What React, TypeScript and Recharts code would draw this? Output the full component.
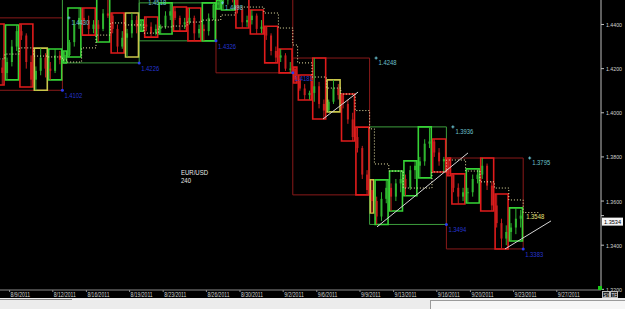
import {
  Bar,
  ComposedChart,
  Line,
  ReferenceArea,
  ReferenceDot,
  ReferenceLine,
  XAxis,
  YAxis,
} from "recharts";

// EUR/USD, 8-hour bars as [high, low, close]; each week = Sunday bar + Mon..Fri (3 bars a day)
const firstOpen = 1.4395;
const week1 = [
  [1.443, 1.4385, 1.4398],
  [1.4402, 1.43, 1.4318], [1.433, 1.419, 1.4205], [1.424, 1.4126, 1.418],
  [1.425, 1.4149, 1.423], [1.433, 1.421, 1.43], [1.4398, 1.428, 1.437],
  [1.4402, 1.433, 1.435], [1.436, 1.42, 1.423], [1.426, 1.4117, 1.415],
  [1.421, 1.4102, 1.419], [1.4293, 1.417, 1.425], [1.427, 1.416, 1.42],
  [1.423, 1.4149, 1.419], [1.4289, 1.418, 1.426], [1.428, 1.422, 1.424],
];
const week2 = [
  [1.428, 1.4226, 1.4262],
  [1.433, 1.4253, 1.432], [1.442, 1.43, 1.44], [1.4475, 1.438, 1.443],
  [1.4475, 1.44, 1.442], [1.444, 1.4352, 1.438], [1.442, 1.436, 1.44],
  [1.442, 1.4321, 1.438], [1.447, 1.437, 1.445], [1.4518, 1.443, 1.444],
  [1.4452, 1.436, 1.438], [1.44, 1.4271, 1.43], [1.437, 1.429, 1.434],
  [1.438, 1.4253, 1.436], [1.4452, 1.434, 1.442], [1.444, 1.436, 1.439],
];
const week3 = [
  [1.442, 1.437, 1.44],
  [1.4434, 1.437, 1.439], [1.441, 1.4343, 1.436], [1.44, 1.435, 1.438],
  [1.44, 1.4357, 1.439], [1.446, 1.438, 1.444], [1.4498, 1.442, 1.446],
  [1.4479, 1.442, 1.443], [1.444, 1.437, 1.44], [1.443, 1.438, 1.441],
  [1.4475, 1.44, 1.443], [1.444, 1.4326, 1.436], [1.44, 1.434, 1.438],
  [1.44, 1.4326, 1.437], [1.445, 1.435, 1.443], [1.4498, 1.442, 1.449],
];
const week4 = [
  [1.451, 1.447, 1.45],
  [1.453, 1.4466, 1.451], [1.4548, 1.449, 1.453], [1.4545, 1.45, 1.452],
  [1.4525, 1.445, 1.447], [1.448, 1.4384, 1.441], [1.444, 1.439, 1.442],
  [1.4466, 1.44, 1.444], [1.445, 1.4357, 1.438], [1.442, 1.436, 1.439],
  [1.4392, 1.433, 1.435], [1.436, 1.426, 1.428], [1.43, 1.4226, 1.425],
  [1.4289, 1.423, 1.426], [1.427, 1.419, 1.42], [1.423, 1.4181, 1.42],
];
const week5 = [
  [1.4207, 1.4135, 1.415],
  [1.4171, 1.41, 1.411], [1.413, 1.4058, 1.408], [1.41, 1.406, 1.409],
  [1.4248, 1.405, 1.412], [1.414, 1.402, 1.404], [1.406, 1.3972, 1.401],
  [1.406, 1.4004, 1.405], [1.4149, 1.404, 1.411], [1.413, 1.406, 1.408],
  [1.4085, 1.402, 1.404], [1.406, 1.395, 1.397], [1.4, 1.3872, 1.389],
  [1.3935, 1.382, 1.384], [1.385, 1.37, 1.372], [1.374, 1.3628, 1.365],
];
const week6 = [
  [1.3696, 1.3546, 1.36],
  [1.362, 1.3494, 1.353], [1.364, 1.351, 1.361], [1.3696, 1.359, 1.366],
  [1.368, 1.3555, 1.362], [1.37, 1.36, 1.368], [1.3736, 1.364, 1.37],
  [1.372, 1.3624, 1.366], [1.376, 1.365, 1.374], [1.3782, 1.37, 1.376],
  [1.38, 1.3705, 1.378], [1.388, 1.376, 1.386], [1.3936, 1.384, 1.387],
  [1.3881, 1.38, 1.382], [1.384, 1.376, 1.378], [1.38, 1.3732, 1.379],
];
const week7 = [
  [1.3795, 1.3715, 1.372],
  [1.3723, 1.364, 1.366], [1.368, 1.3587, 1.362], [1.366, 1.36, 1.364],
  [1.366, 1.3591, 1.364], [1.372, 1.362, 1.37], [1.3746, 1.368, 1.372],
  [1.3795, 1.37, 1.376], [1.377, 1.365, 1.367], [1.369, 1.3555, 1.358],
  [1.3632, 1.348, 1.35], [1.352, 1.3383, 1.343], [1.349, 1.34, 1.346],
  [1.35, 1.3419, 1.348], [1.3569, 1.345, 1.352], [1.356, 1.348, 1.3534],
];

// daily box character, Sun..Fri: u = up, d = down, n = inside day
const dayTones = ["ddudnu", "uududn", "ududdu", "uudddd", "dddndd", "nuuuud", "dduddu"];

// dotted pivot level for each day, Sun..Fri
const pivotLevels = [
  [1.425, 1.4244, 1.4266, 1.4294, 1.4257, 1.4253],
  [1.4239, 1.423, 1.4294, 1.4352, 1.4407, 1.4398],
  [1.4398, 1.4361, 1.4389, 1.4393, 1.4411, 1.442],
  [1.442, 1.4443, 1.4479, 1.4479, 1.4452, 1.4384],
  [1.4307, 1.4226, 1.4162, 1.4112, 1.4085, 1.401],
  [1.3927, 1.3768, 1.3736, 1.3659, 1.3659, 1.3732],
  [1.3786, 1.3786, 1.3736, 1.3687, 1.3659, 1.3605],
];
const currentPivot = 1.3548;
const currentPivotEnd = 231;

const highLabelWeeks = [0, 1, 2, 4, 5, 6];
const lowLabelWeeks = [0, 1, 2, 3, 5, 6];

// hand-drawn trend lines, [bar, price] pairs
const trendLines = [
  [[140.6, 1.3972], [155.2, 1.4094]],
  [[163.1, 1.3483], [201, 1.3818]],
  [[216.4, 1.3383], [235.6, 1.351]],
];

const tickBars = [10, 28, 42, 60, 74, 92, 106, 124, 138, 156, 170, 188, 202, 220, 238];
const tickDates = [
  "8/9/2011", "8/12/2011", "8/16/2011", "8/19/2011", "8/23/2011", "8/26/2011", "8/30/2011",
  "9/2/2011", "9/6/2011", "9/9/2011", "9/13/2011", "9/16/2011", "9/20/2011", "9/23/2011", "9/27/2011",
];
const priceTicks = [1.32, 1.34, 1.36, 1.38, 1.4, 1.42, 1.44];

const FONT = "'Liberation Sans', Arial, sans-serif";
const weeks = [week1, week2, week3, week4, week5, week6, week7];

const candles: any[] = [];
const days: any[] = [];
const weekBoxes: any[] = [];
let prev = firstOpen;
weeks.forEach((wk, w) => {
  const ws = w * 32;
  const wOpen = prev;
  for (let d = 0; d < 6; d++) {
    const start = d === 0 ? ws : ws + 2 + (d - 1) * 6;
    const end = d === 0 ? ws + 2 : start + 6;
    const rows = d === 0 ? [wk[0]] : wk.slice(1 + (d - 1) * 3, 1 + d * 3);
    rows.forEach(([h, l, c], k) => {
      candles.push({ x: start + 1 + 2 * k, o: prev, h, l, c });
      prev = c;
    });
    days.push({
      start,
      end,
      high: Math.max(...rows.map((r) => r[0])),
      low: Math.min(...rows.map((r) => r[1])),
      tone: dayTones[w][d],
      pivot: pivotLevels[w][d],
    });
  }
  weekBoxes.push({
    start: ws,
    end: ws + 32,
    high: Math.max(...wk.map((r) => r[0])),
    low: Math.min(...wk.map((r) => r[1])),
    up: prev > wOpen,
  });
});
const lastClose = candles[candles.length - 1].c;
const pivotPoints = [
  ...days.map((d) => ({ x: d.start, v: d.pivot })),
  { x: 224, v: currentPivot },
  { x: currentPivotEnd, v: currentPivot },
];

const toneColor: Record<string, string> = { u: "#36d336", d: "#e01b1b", n: "#c9c64a" };

const Candle = (props: any) => {
  const { x, y, width, height, payload } = props;
  if (!payload || height == null) return null;
  const top = Math.min(y, y + height);
  const h = Math.abs(height);
  const range = payload.h - payload.l || 1;
  const yo = top + ((payload.h - payload.o) / range) * h;
  const yc = top + ((payload.h - payload.c) / range) * h;
  const color = payload.c >= payload.o ? "#2fb52f" : "#c81e1e";
  const cx = x + width / 2;
  return (
    <g>
      <line x1={cx} x2={cx} y1={top} y2={top + h} stroke={color} strokeWidth={1} />
      <rect x={cx - 1} y={Math.min(yo, yc)} width={2} height={Math.max(1, Math.abs(yc - yo))} fill={color} />
    </g>
  );
};

const PriceTick = (props: any) => {
  const { x, y, payload } = props;
  const v: number = payload.value;
  const label = v.toFixed(4);
  if (v === lastClose) {
    return (
      <g>
        <rect x={x - 4} y={y + 2} width={21} height={8} fill="#f4f4f4" />
        <text x={x - 2} y={y + 8.2} fontSize={6} fill="#000" fontFamily={FONT} textLength={17} lengthAdjust="spacingAndGlyphs">
          {label}
        </text>
      </g>
    );
  }
  return (
    <text x={x} y={y + 2.5} fontSize={6} fill="#d4d4d4" fontFamily={FONT} textLength={16} lengthAdjust="spacingAndGlyphs">
      {label}
    </text>
  );
};

const DateTick = (props: any) => {
  const { x, y, payload } = props;
  const label = tickDates[tickBars.indexOf(payload.value)] || "";
  return (
    <text x={x + 1} y={y + 5} fontSize={6.5} fill="#d4d4d4" fontFamily={FONT} textLength={label.length * 2.45} lengthAdjust="spacingAndGlyphs">
      {label}
    </text>
  );
};

const HighLabel = (text: string) => (props: any) => {
  const { cx, cy } = props;
  return (
    <g>
      <line x1={cx + 5} x2={cx + 8} y1={cy} y2={cy} stroke="#6cc6d4" />
      <line x1={cx + 6.5} x2={cx + 6.5} y1={cy - 1.5} y2={cy + 1.5} stroke="#6cc6d4" />
      <text x={cx + 9} y={cy + 7} fontSize={7} fill="#6cc0cc" fontFamily={FONT} textLength={18} lengthAdjust="spacingAndGlyphs">
        {text}
      </text>
    </g>
  );
};

const LowLabel = (text: string) => (props: any) => {
  const { cx, cy } = props;
  return (
    <g>
      <circle cx={cx} cy={cy} r={1.5} fill="#2b3cf0" />
      <text x={cx + 2} y={cy + 8} fontSize={7} fill="#2535cf" fontFamily={FONT} textLength={18} lengthAdjust="spacingAndGlyphs">
        {text}
      </text>
    </g>
  );
};

const PivotLabel = (props: any) => {
  const { cx, cy } = props;
  return (
    <text x={cx + 3} y={cy + 6} fontSize={7} fill="#e6e07a" fontFamily={FONT} textLength={18} lengthAdjust="spacingAndGlyphs">
      {currentPivot.toFixed(4)}
    </text>
  );
};

export default function App() {
  return (
    <div style={{ position: "fixed", left: 0, top: 0, width: 625, height: 309, background: "#000", overflow: "hidden" }}>
      <ComposedChart width={625} height={298} data={candles} margin={{ top: 0, right: 0, bottom: 0, left: 0 }}>
        <XAxis
          dataKey="x"
          type="number"
          domain={[6, 256.42]}
          allowDataOverflow
          ticks={tickBars}
          interval={0}
          height={8}
          tickSize={2}
          tickMargin={0}
          stroke="#8a8a8a"
          tick={(p: any) => <DateTick {...p} />}
        />
        <YAxis
          orientation="right"
          type="number"
          domain={[1.3197, 1.4511]}
          allowDataOverflow
          ticks={[...priceTicks, lastClose]}
          interval={0}
          width={24}
          tickSize={3}
          tickMargin={2}
          stroke="#bdbdbd"
          tick={(p: any) => <PriceTick {...p} />}
        />
        {weekBoxes.map((wb, i) => (
          <ReferenceArea
            key={`w${i}`}
            x1={wb.start}
            x2={wb.end}
            y1={wb.low}
            y2={wb.high}
            fill="none"
            fillOpacity={0}
            stroke={wb.up ? "#3d9e3d" : "#8a1a1a"}
            strokeWidth={1}
            ifOverflow="hidden"
          />
        ))}
        {days.map((d, i) => (
          <ReferenceArea
            key={`d${i}`}
            x1={d.start + 0.3}
            x2={d.end - 0.3}
            y1={d.low}
            y2={d.high}
            fill="none"
            fillOpacity={0}
            stroke={toneColor[d.tone]}
            strokeWidth={1.6}
            ifOverflow="hidden"
          />
        ))}
        <Bar dataKey={(d: any) => [d.l, d.h]} barSize={3} shape={(p: any) => <Candle {...p} />} isAnimationActive={false} />
        <Line
          data={pivotPoints}
          dataKey="v"
          type="stepAfter"
          stroke="#ece6a8"
          strokeWidth={1}
          strokeDasharray="1 2"
          dot={false}
          activeDot={false}
          isAnimationActive={false}
        />
        {trendLines.map((t, i) => (
          <ReferenceLine
            key={`t${i}`}
            segment={[{ x: t[0][0], y: t[0][1] }, { x: t[1][0], y: t[1][1] }]}
            stroke="#d6d6d6"
            strokeWidth={1}
            ifOverflow="hidden"
          />
        ))}
        {highLabelWeeks.map((w) => (
          <ReferenceDot
            key={`h${w}`}
            x={weekBoxes[w].end}
            y={weekBoxes[w].high}
            r={0}
            ifOverflow="visible"
            shape={HighLabel(weekBoxes[w].high.toFixed(4))}
          />
        ))}
        {lowLabelWeeks.map((w) => (
          <ReferenceDot
            key={`l${w}`}
            x={weekBoxes[w].end}
            y={weekBoxes[w].low}
            r={0}
            ifOverflow="visible"
            shape={LowLabel(weekBoxes[w].low.toFixed(4))}
          />
        ))}
        <ReferenceDot x={224} y={currentPivot} r={0} ifOverflow="visible" shape={PivotLabel} />
      </ComposedChart>
      <svg width={625} height={309} style={{ position: "absolute", left: 0, top: 0, pointerEvents: "none" }}>
        <text x={181} y={175} fontSize={7.5} fill="#e8e8e8" fontFamily={FONT} textLength={27} lengthAdjust="spacingAndGlyphs">
          EUR/USD
        </text>
        <text x={181} y={183} fontSize={7.5} fill="#e8e8e8" fontFamily={FONT} textLength={10} lengthAdjust="spacingAndGlyphs">
          240
        </text>
        <rect x={598} y={286} width={4} height={4} fill="#18c818" />
        <rect x={602.5} y={291.5} width={7} height={6} fill="#222" stroke="#bbb" strokeWidth={1} />
        <rect x={610.5} y={291.5} width={7} height={6} fill="#222" stroke="#bbb" strokeWidth={1} />
        <text x={603.5} y={296.5} fontSize={4.5} fill="#eee" fontFamily={FONT}>SY</text>
        <text x={611.5} y={296.5} fontSize={4.5} fill="#eee" fontFamily={FONT}>TF</text>
        <rect x={0} y={298} width={625} height={11} fill="#ececec" />
        <line x1={0} x2={72} y1={299.5} y2={299.5} stroke="#8c8c8c" />
        <rect x={430.5} y={300.5} width={200} height={12} fill="#f6f6f6" stroke="#9a9a9a" />
      </svg>
    </div>
  );
}
